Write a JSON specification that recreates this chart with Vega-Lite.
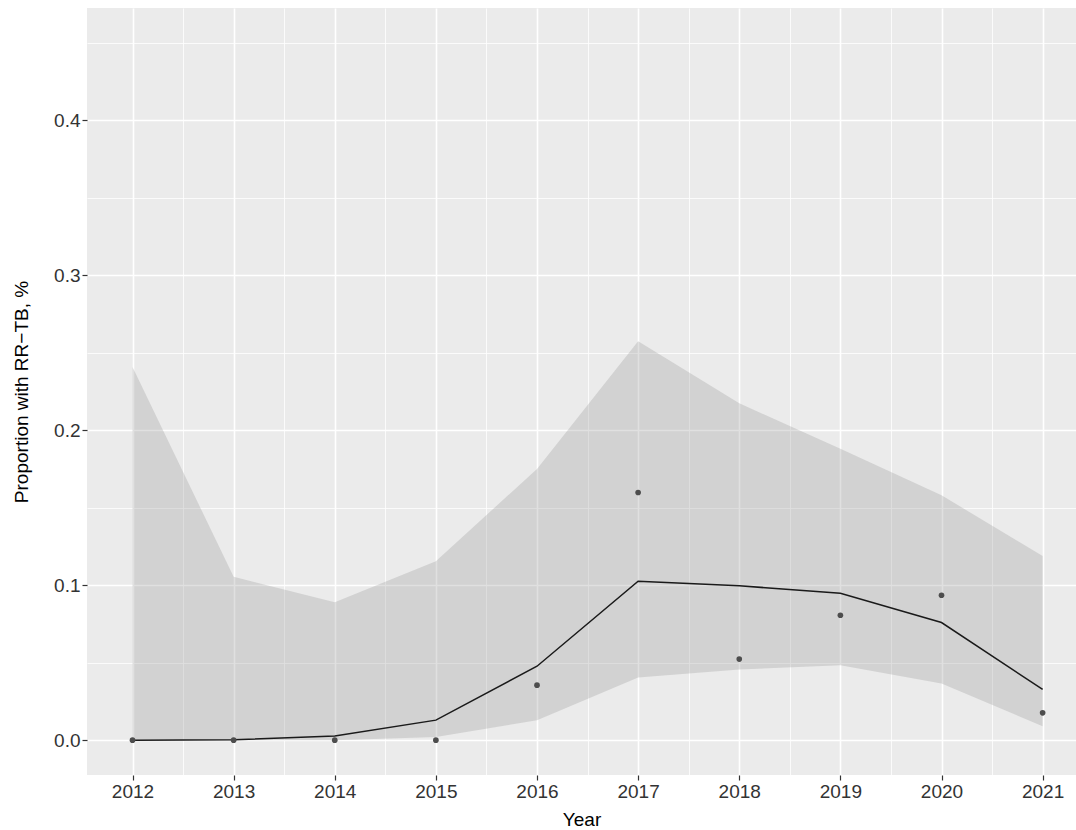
{
  "$schema": "https://vega.github.io/schema/vega-lite/v6.json",
  "width": 989,
  "height": 767,
  "autosize": {"type": "none"},
  "padding": {"left": 87, "top": 8, "right": 0, "bottom": 55},
  "background": "white",
  "config": {
    "view": {"fill": "#ebebeb", "stroke": null},
    "font": "Liberation Sans",
    "axis": {
      "domain": false,
      "ticks": true,
      "gridColor": "white",
      "labelFont": "Liberation Sans",
      "titleFont": "Liberation Sans",
      "labelFontSize": 19,
      "titleFontSize": 19,
      "labelColor": "#333333",
      "titleColor": "#000000",
      "titleFontWeight": "normal",
      "tickWidth": 1.2
    }
  },
  "data": {
    "values": [
      {"Year": 2012, "observed": 0.0, "fit": 0.0, "lower": 0.0, "upper": 0.2408},
      {"Year": 2013, "observed": 0.0, "fit": 0.0002, "lower": 0.0, "upper": 0.1054},
      {"Year": 2014, "observed": 0.0, "fit": 0.0026, "lower": 0.0, "upper": 0.089},
      {"Year": 2015, "observed": 0.0, "fit": 0.0129, "lower": 0.002, "upper": 0.1155},
      {"Year": 2016, "observed": 0.0355, "fit": 0.0477, "lower": 0.0129, "upper": 0.175},
      {"Year": 2017, "observed": 0.1598, "fit": 0.1026, "lower": 0.0405, "upper": 0.2574},
      {"Year": 2018, "observed": 0.0523, "fit": 0.0996, "lower": 0.0456, "upper": 0.2174},
      {"Year": 2019, "observed": 0.0806, "fit": 0.0948, "lower": 0.0484, "upper": 0.188},
      {"Year": 2020, "observed": 0.0935, "fit": 0.0759, "lower": 0.0366, "upper": 0.158},
      {"Year": 2021, "observed": 0.0176, "fit": 0.0327, "lower": 0.009, "upper": 0.1189}
    ]
  },
  "encoding": {
    "x": {
      "field": "Year",
      "type": "quantitative",
      "scale": {"domain": [2011.55, 2021.33], "zero": false, "nice": false},
      "axis": {
        "title": "Year",
        "values": [2012, 2012.5, 2013, 2013.5, 2014, 2014.5, 2015, 2015.5, 2016, 2016.5, 2017, 2017.5, 2018, 2018.5, 2019, 2019.5, 2020, 2020.5, 2021],
        "labelExpr": "datum.value % 1 == 0 ? format(datum.value, 'd') : ''",
        "gridWidth": {"condition": {"test": "datum.value % 1 == 0", "value": 1.6}, "value": 0.8},
        "tickColor": {"condition": {"test": "datum.value % 1 == 0", "value": "#333333"}, "value": "transparent"},
        "tickSize": 5,
        "labelPadding": 2,
        "titlePadding": 9,
        "labelFlush": false,
        "labelOverlap": false
      }
    }
  },
  "layer": [
    {
      "mark": {"type": "area", "color": "#999999", "opacity": 0.3},
      "encoding": {
        "y": {
          "field": "upper",
          "type": "quantitative",
          "scale": {"domain": [-0.0225, 0.4725], "zero": false, "nice": false},
          "axis": {
            "title": "Proportion with RR−TB, %",
            "values": [0, 0.05, 0.1, 0.15, 0.2, 0.25, 0.3, 0.35, 0.4, 0.45],
            "labelExpr": "round(datum.value * 100) % 10 == 0 ? format(datum.value, '.1f') : ''",
            "gridWidth": {"condition": {"test": "round(datum.value * 100) % 10 == 0", "value": 1.6}, "value": 0.8},
            "tickColor": {"condition": {"test": "round(datum.value * 100) % 10 == 0", "value": "#333333"}, "value": "transparent"},
            "tickSize": 5,
            "labelPadding": 2,
            "titlePadding": 22,
            "labelOverlap": false
          }
        },
        "y2": {"field": "lower"}
      }
    },
    {
      "mark": {"type": "line", "color": "#1a1a1a", "strokeWidth": 1.5},
      "encoding": {"y": {"field": "fit", "type": "quantitative"}}
    },
    {
      "mark": {"type": "point", "filled": true, "color": "#4d4d4d", "opacity": 1, "size": 32},
      "encoding": {"y": {"field": "observed", "type": "quantitative"}}
    }
  ]
}
